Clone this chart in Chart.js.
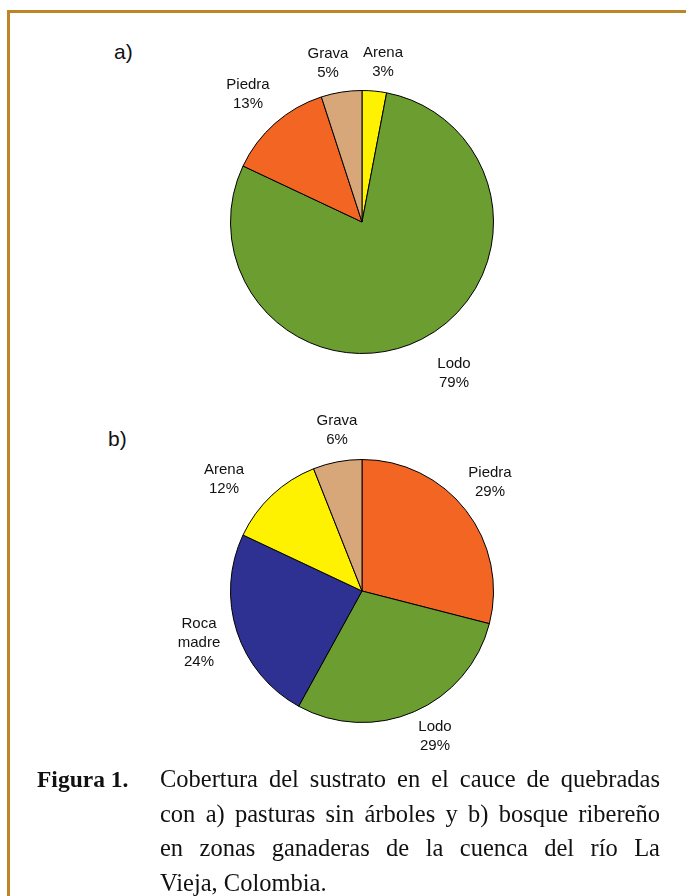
<!DOCTYPE html>
<html>
<head>
<meta charset="utf-8">
<script src="https://cdn.jsdelivr.net/npm/chart.js@4"></script>
<style>
  html, body { margin: 0; padding: 0; background: #fff; }
  body { width: 686px; height: 896px; position: relative; overflow: hidden; }
  .frame { position: absolute; left: 7px; top: 10px; width: 690px; height: 900px;
           border-top: 3px solid #bd8526; border-left: 3px solid #bd8526; }
  .panel { position: absolute; left: 0; width: 686px; height: 370px; }
  .tag { position: absolute; font: 21px "Liberation Sans", Arial, sans-serif; color: #111; }
  .caption { position: absolute; left: 36px; top: 762px; width: 624px;
             font: 24.5px/34.5px "Liberation Serif", "Times New Roman", serif; color: #111; }
  .caption b { position: absolute; left: 1px; top: 0; font-size: 23.5px; }
  .caption p { margin: 0 0 0 124px; }
  .caption span { display: block; text-align: justify; text-align-last: justify; white-space: nowrap; }
  .caption span.last { text-align-last: left; }
</style>
</head>
<body>
<div class="frame"></div>
<div class="tag" style="left:114px; top:40px;">a)</div>
<div class="tag" style="left:108px; top:427px;">b)</div>
<div class="panel" style="top:40px;"><canvas id="pieA"></canvas></div>
<div class="panel" style="top:409px;"><canvas id="pieB"></canvas></div>
<div class="caption"><b>Figura 1.</b><p>
  <span>Cobertura del sustrato en el cauce de quebradas</span>
  <span>con a) pasturas sin árboles y b) bosque ribereño</span>
  <span>en zonas ganaderas de la cuenca del río La</span>
  <span class="last">Vieja, Colombia.</span>
</p></div>
<script>
// a) pasturas sin árboles
const labelsA = ['Arena', 'Lodo', 'Piedra', 'Grava'];
const valuesA = [3, 79, 13, 5];
const colorsA = ['#fff200', '#6b9d31', '#f26522', '#d7a679'];

// b) bosque ribereño
const labelsB = ['Piedra', 'Lodo', 'Roca\nmadre', 'Arena', 'Grava'];
const valuesB = [29, 29, 24, 12, 6];
const colorsB = ['#f26522', '#6b9d31', '#2e3192', '#fff200', '#d7a679'];

// label block centres, relative to the pie centre
const offsetsA = [[21, -160], [92, 151], [-114, -128], [-34, -159]];
const offsetsB = [[128, -109], [73, 145], [-163, 52], [-138, -112], [-25, -161]];

const sliceLabels = {
    id: 'sliceLabels',
    afterDatasetsDraw(chart, args, opts) {
        const ctx = chart.ctx;
        const arc = chart.getDatasetMeta(0).data[0];
        const cx = arc.x, cy = arc.y;
        const values = chart.data.datasets[0].data;
        ctx.save();
        ctx.font = '15px "Liberation Sans", Arial, sans-serif';
        ctx.fillStyle = '#111';
        ctx.textAlign = 'center';
        ctx.textBaseline = 'middle';
        chart.data.labels.forEach((lab, i) => {
            const lines = lab.split('\n').concat([values[i] + '%']);
            const [dx, dy] = opts.offsets[i];
            const lh = 19;
            const y0 = cy + dy - (lines.length - 1) * lh / 2;
            lines.forEach((t, j) => ctx.fillText(t, cx + dx, y0 + j * lh));
        });
        ctx.restore();
    }
};

function makePie(id, labels, values, colors, offsets, pad) {
    return new Chart(document.getElementById(id), {
        type: 'pie',
        data: {
            labels: labels,
            datasets: [{
                data: values,
                backgroundColor: colors,
                borderColor: '#000',
                borderWidth: 1
            }]
        },
        options: {
            responsive: true,
            maintainAspectRatio: false,
            animation: false,
            layout: { padding: pad },
            plugins: {
                legend: { display: false },
                tooltip: { enabled: false },
                sliceLabels: { offsets: offsets }
            }
        },
        plugins: [sliceLabels]
    });
}

makePie('pieA', labelsA, valuesA, colorsA, offsetsA, { left: 230, right: 192, top: 50, bottom: 56 });
makePie('pieB', labelsB, valuesB, colorsB, offsetsB, { left: 230, right: 192, top: 50, bottom: 56 });
</script>
</body>
</html>
